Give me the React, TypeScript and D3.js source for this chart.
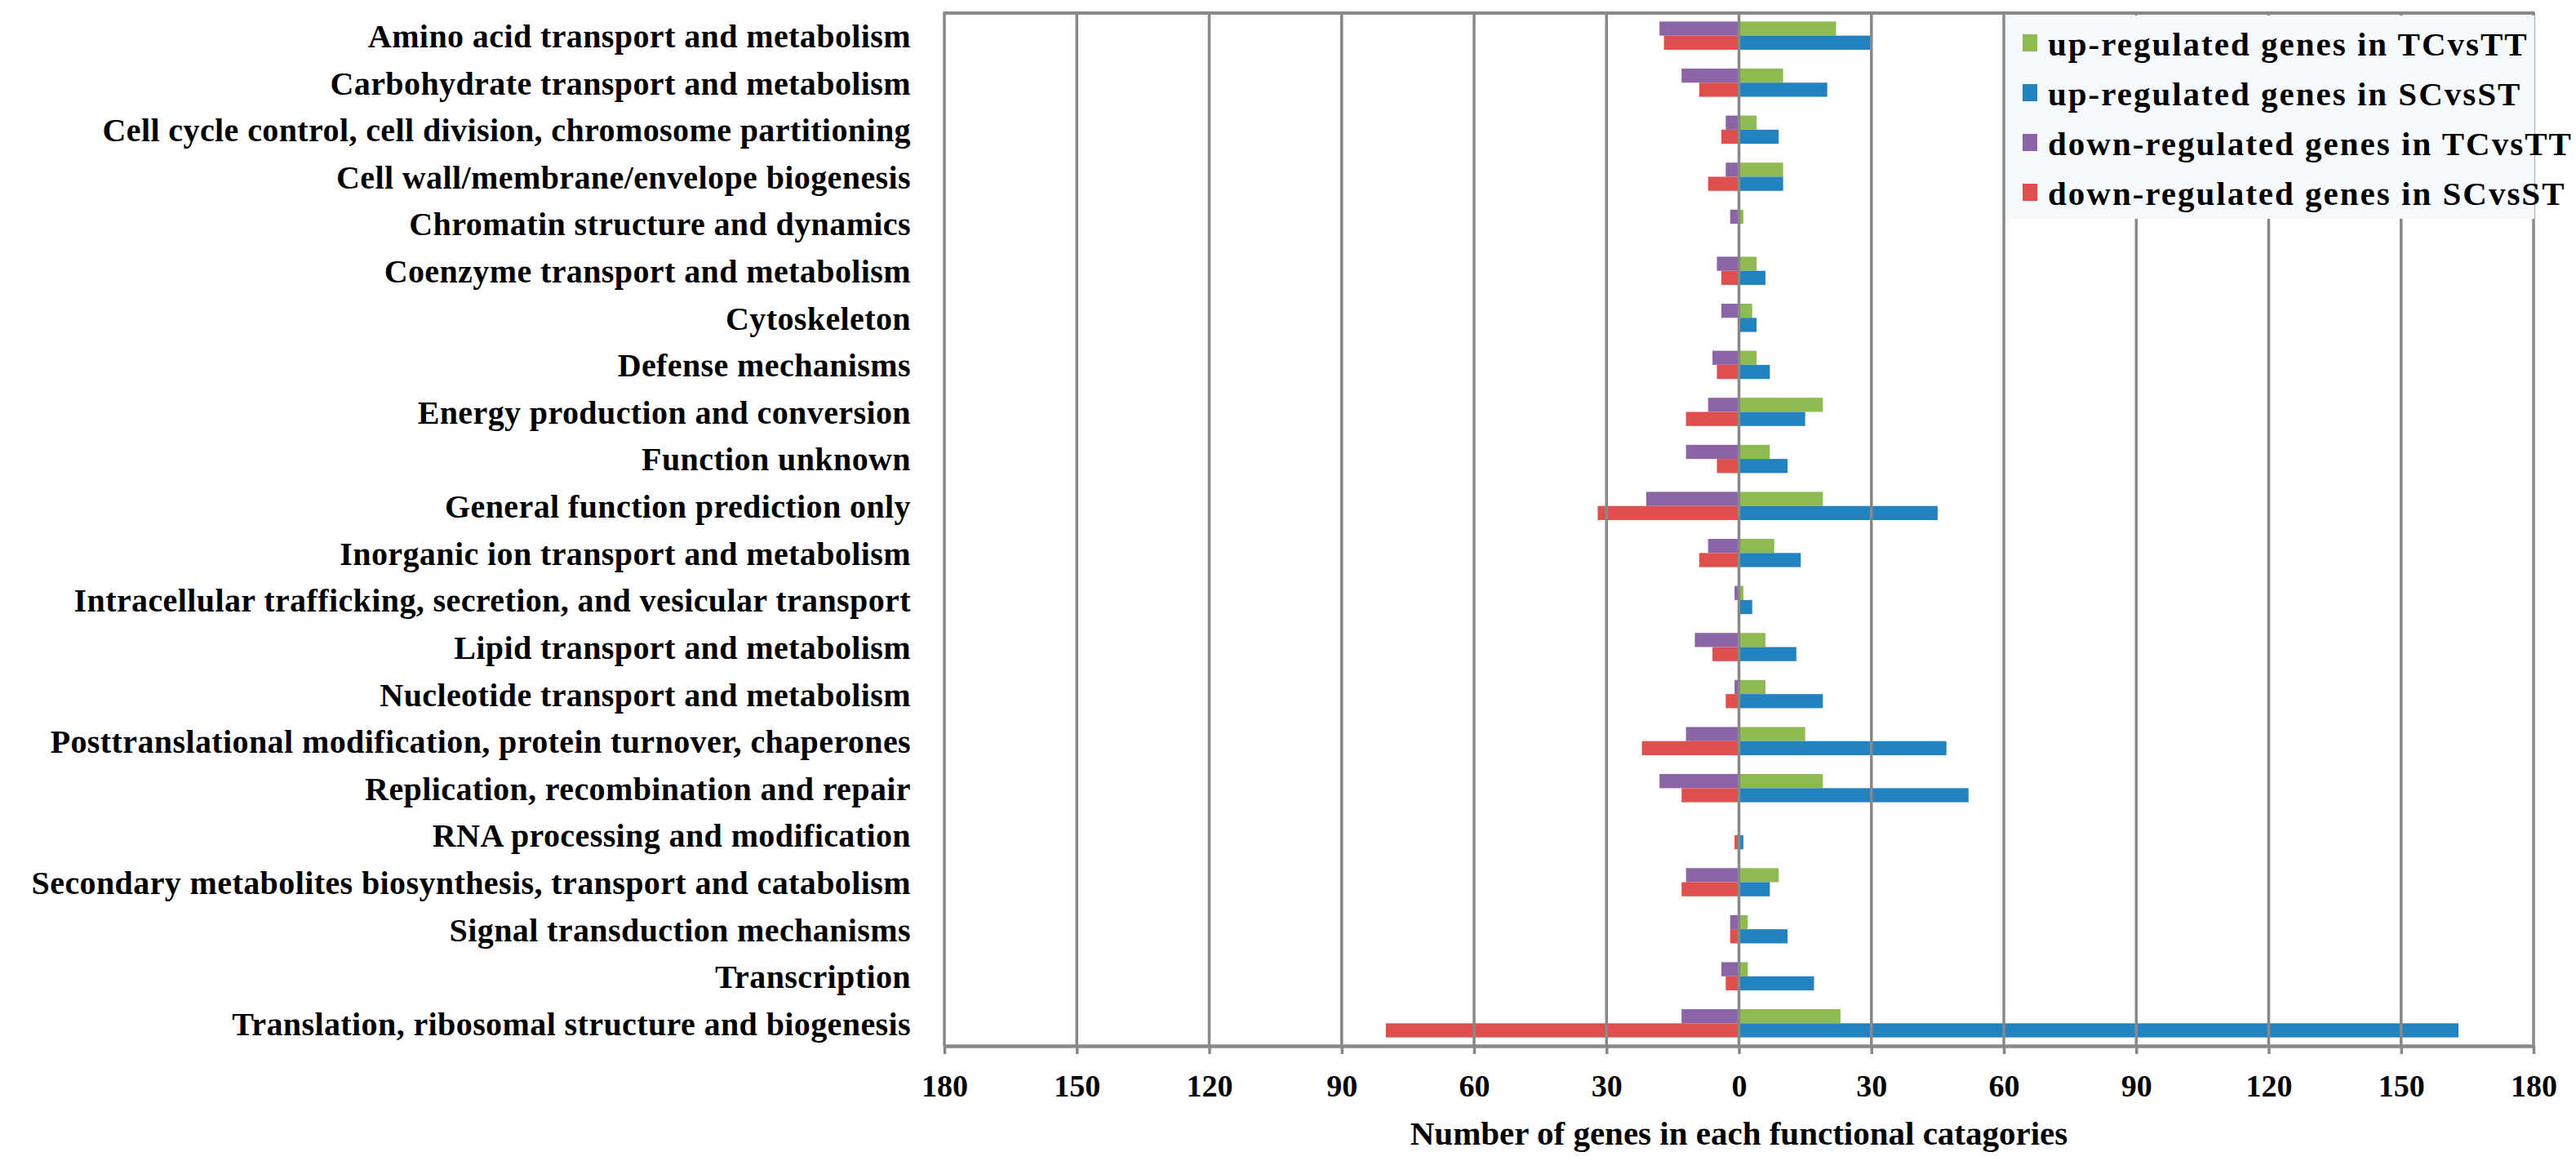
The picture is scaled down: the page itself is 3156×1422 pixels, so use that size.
import { useEffect, useRef } from "react";
import * as d3 from "d3";

const categories = [
  "Amino acid transport and metabolism",
  "Carbohydrate transport and metabolism",
  "Cell cycle control, cell division, chromosome partitioning",
  "Cell wall/membrane/envelope biogenesis",
  "Chromatin structure and dynamics",
  "Coenzyme transport and metabolism",
  "Cytoskeleton",
  "Defense mechanisms",
  "Energy production and conversion",
  "Function unknown",
  "General function prediction only",
  "Inorganic ion transport and metabolism",
  "Intracellular trafficking, secretion, and vesicular transport",
  "Lipid transport and metabolism",
  "Nucleotide transport and metabolism",
  "Posttranslational modification, protein turnover, chaperones",
  "Replication, recombination and repair",
  "RNA processing and modification",
  "Secondary metabolites biosynthesis, transport and catabolism",
  "Signal transduction mechanisms",
  "Transcription",
  "Translation, ribosomal structure and biogenesis",
];

// counts (down-regulated drawn to the left)
const upTC = [22, 10, 4, 10, 1, 4, 3, 4, 19, 7, 19, 8, 1, 6, 6, 15, 19, 0, 9, 2, 2, 23];
const upSC = [30, 20, 9, 10, 0, 6, 4, 7, 15, 11, 45, 14, 3, 13, 19, 47, 52, 1, 7, 11, 17, 163];
const downTC = [18, 13, 3, 3, 2, 5, 4, 6, 7, 12, 21, 7, 1, 10, 1, 12, 18, 0, 12, 2, 4, 13];
const downSC = [17, 9, 4, 7, 0, 4, 0, 5, 12, 5, 32, 9, 0, 6, 3, 22, 13, 1, 13, 2, 3, 80];

const tickValues = [-180, -150, -120, -90, -60, -30, 0, 30, 60, 90, 120, 150, 180];

const legendItems = [
  { label: "up-regulated genes in TCvsTT", color: "#8ebb4f" },
  { label: "up-regulated genes in SCvsST", color: "#2382c0" },
  { label: "down-regulated genes in TCvsTT", color: "#8b64a5" },
  { label: "down-regulated genes in SCvsST", color: "#de504e" },
];

const W = 3156;
const H = 1422;
const FONT = "'Liberation Serif', 'Times New Roman', serif";

const App = () => {
  const ref = useRef(null);

  useEffect(() => {
    const plot = { left: 1157, right: 3104, top: 16, bottom: 1281 };

    const svg = d3.select(ref.current).html("");
    svg.append("rect").attr("width", W).attr("height", H).attr("fill", "#fff");

    const x = d3.scaleLinear().domain([-180, 180]).range([plot.left, plot.right]);
    const y = d3
      .scaleBand()
      .domain(categories)
      .range([plot.top, plot.bottom])
      .paddingInner(0.4)
      .paddingOuter(0.18);
    const sub = d3.scaleBand().domain(["TC", "SC"]).range([0, y.bandwidth()]);

    const rows = categories.map((c, i) => ({
      c,
      upTC: upTC[i],
      upSC: upSC[i],
      downTC: downTC[i],
      downSC: downSC[i],
    }));

    const bars = [
      { key: "upTC", grp: "TC", sign: 1, color: legendItems[0].color },
      { key: "upSC", grp: "SC", sign: 1, color: legendItems[1].color },
      { key: "downTC", grp: "TC", sign: -1, color: legendItems[2].color },
      { key: "downSC", grp: "SC", sign: -1, color: legendItems[3].color },
    ];

    bars.forEach((b) => {
      svg
        .append("g")
        .selectAll("rect")
        .data(rows)
        .enter()
        .append("rect")
        .attr("x", (d) => Math.min(x(0), x(b.sign * d[b.key])))
        .attr("y", (d) => y(d.c) + sub(b.grp))
        .attr("width", (d) => Math.abs(x(b.sign * d[b.key]) - x(0)))
        .attr("height", sub.bandwidth())
        .attr("fill", b.color);
    });

    // gridlines sit on top of the bars
    svg
      .append("g")
      .selectAll("line")
      .data(tickValues)
      .enter()
      .append("line")
      .attr("x1", (d) => x(d))
      .attr("x2", (d) => x(d))
      .attr("y1", plot.top)
      .attr("y2", plot.bottom)
      .attr("stroke", "#888")
      .attr("stroke-width", 3.5);

    svg
      .append("line")
      .attr("x1", plot.left - 1.5)
      .attr("x2", plot.right + 1.5)
      .attr("y1", plot.top)
      .attr("y2", plot.top)
      .attr("stroke", "#888")
      .attr("stroke-width", 4);

    // x axis
    const axis = svg
      .append("g")
      .attr("transform", `translate(0,${plot.bottom})`)
      .call(
        d3
          .axisBottom(x)
          .tickValues(tickValues)
          .tickFormat((d) => String(Math.abs(d)))
          .tickSize(10)
          .tickSizeOuter(0)
          .tickPadding(25)
      );
    axis.select(".domain").attr("stroke", "#888").attr("stroke-width", 4.5);
    axis.selectAll(".tick line").attr("stroke", "#888").attr("stroke-width", 3.5);
    axis
      .selectAll(".tick text")
      .attr("fill", "#000")
      .attr("font-family", FONT)
      .attr("font-weight", "bold")
      .attr("font-size", 38);

    svg
      .append("text")
      .attr("x", x(0))
      .attr("y", 1402)
      .attr("text-anchor", "middle")
      .attr("font-family", FONT)
      .attr("font-weight", "bold")
      .attr("font-size", 41)
      .text("Number of genes in each functional catagories");

    // category labels
    svg
      .append("g")
      .selectAll("text")
      .data(categories)
      .enter()
      .append("text")
      .attr("x", 1116)
      .attr("y", (d) => y(d) + y.bandwidth() / 2)
      .attr("dy", "0.36em")
      .attr("text-anchor", "end")
      .attr("font-family", FONT)
      .attr("font-weight", "bold")
      .attr("font-size", 40)
      .attr("letter-spacing", 0.4)
      .text((d) => d);

    // legend
    const lg = svg.append("g");
    lg.append("rect")
      .attr("x", 2457)
      .attr("y", 19)
      .attr("width", 648)
      .attr("height", 249)
      .attr("fill", "#f7fafd");
    legendItems.forEach((it, i) => {
      const top = 42 + i * 61;
      lg.append("rect")
        .attr("x", 2478)
        .attr("y", top)
        .attr("width", 18)
        .attr("height", 21)
        .attr("fill", it.color);
      lg.append("text")
        .attr("x", 2509)
        .attr("y", top + 26)
        .attr("font-family", FONT)
        .attr("font-weight", "bold")
        .attr("font-size", 41)
        .attr("letter-spacing", 2)
        .text(it.label);
    });
  }, []);

  return (
    <div style={{ position: "absolute", left: 0, top: 0 }}>
      <svg ref={ref} width={W} height={H} style={{ display: "block" }}></svg>
    </div>
  );
};

export default App;
